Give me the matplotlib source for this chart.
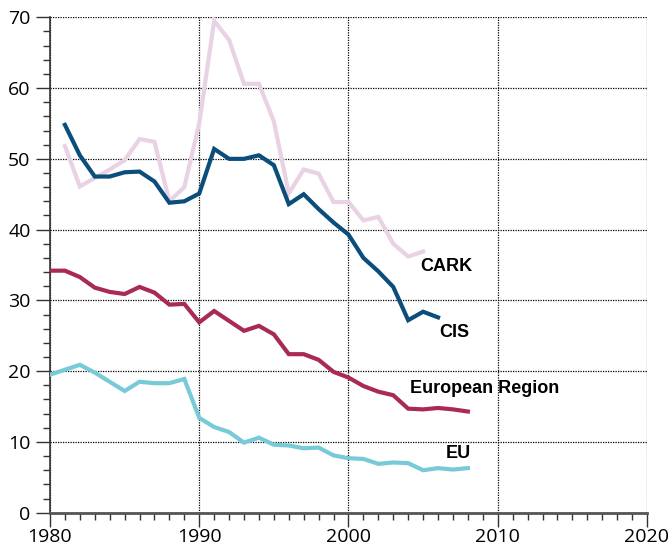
import matplotlib
matplotlib.use("Agg")
import matplotlib.pyplot as plt
from matplotlib.ticker import MultipleLocator

years_cis = list(range(1981, 2007))
cis = [54.8, 50.5, 47.5, 47.5, 48.1, 48.2, 46.8, 43.8, 44.0, 45.1,
       51.4, 50.0, 50.0, 50.5, 49.1, 43.6, 45.0, 42.9, 41.0, 39.3,
       36.0, 34.1, 31.9, 27.2, 28.4, 27.6]

years_cark = list(range(1981, 2006))
cark = [51.8, 46.1, 47.3, 48.5, 49.8, 52.8, 52.4, 44.0, 46.0, 55.0,
        69.5, 66.8, 60.6, 60.6, 55.3, 45.1, 48.5, 47.9, 43.9, 43.9,
        41.3, 41.8, 38.0, 36.2, 36.9]

years_eur = list(range(1980, 2009))
eur = [34.2, 34.2, 33.3, 31.8, 31.2, 30.9, 31.9, 31.1, 29.4, 29.5,
       26.9, 28.5, 27.1, 25.7, 26.4, 25.2, 22.4, 22.4, 21.6, 19.9,
       19.1, 17.9, 17.1, 16.6, 14.7, 14.6, 14.8, 14.6, 14.3]

years_eu = list(range(1980, 2009))
eu = [19.5, 20.2, 20.9, 19.8, 18.5, 17.2, 18.5, 18.3, 18.3, 18.9,
      13.4, 12.1, 11.4, 9.9, 10.6, 9.6, 9.5, 9.1, 9.2, 8.1,
      7.7, 7.6, 6.9, 7.1, 7.0, 6.0, 6.3, 6.1, 6.3]

labels = ["CARK", "CIS", "European Region", "EU"]
label_pos = [(2004.8, 34.8), (2006.1, 25.5), (2004.1, 17.5), (2006.5, 8.3)]

col_cark = "#e8d2e4"
col_cis = "#0b4e7b"
col_eur = "#a82a55"
col_eu = "#78cad9"

fig = plt.figure(figsize=(6.71, 5.49), dpi=100)
ax = fig.add_axes([0.0745, 0.0661, 0.8897, 0.9024])

lw = 3.0
ax.plot(years_cark, cark, color=col_cark, lw=lw, solid_joinstyle="miter", zorder=3)
ax.plot(years_cis, cis, color=col_cis, lw=lw, solid_joinstyle="miter", zorder=4)
ax.plot(years_eur, eur, color=col_eur, lw=lw, solid_joinstyle="miter", zorder=3)
ax.plot(years_eu, eu, color=col_eu, lw=lw, solid_joinstyle="miter", zorder=3)

for lab, (x, y) in zip(labels, label_pos):
    ax.text(x, y, lab, fontsize=13, fontweight="bold", family="Liberation Sans",
            ha="left", va="center", color="black", zorder=5)

ax.set_xlim(1980, 2020)
ax.set_ylim(0, 70)
ax.xaxis.set_major_locator(MultipleLocator(10))
ax.xaxis.set_minor_locator(MultipleLocator(1))
ax.yaxis.set_major_locator(MultipleLocator(10))
ax.yaxis.set_minor_locator(MultipleLocator(2))

ax.grid(True, which="major", color="black", linestyle=(0, (1, 1)), linewidth=0.9, zorder=1)
for s in ["top", "right"]:
    ax.spines[s].set_visible(False)
for s in ["left", "bottom"]:
    ax.spines[s].set_linewidth(1.2)
    ax.spines[s].set_color("#333333")
ax.spines["bottom"].set_linewidth(2.0)
ax.spines["bottom"].set_color("#555555")

ax.tick_params(which="major", direction="out", length=10, width=1.0, color="#333333",
               labelsize=14, pad=4)
ax.tick_params(which="minor", direction="out", length=5, width=1.0, color="#333333")
ax.tick_params(axis="x", which="major", pad=1)
for t in ax.get_xticklabels() + ax.get_yticklabels():
    t.set_family("Open Sans")

fig.savefig("out.png", dpi=100)
